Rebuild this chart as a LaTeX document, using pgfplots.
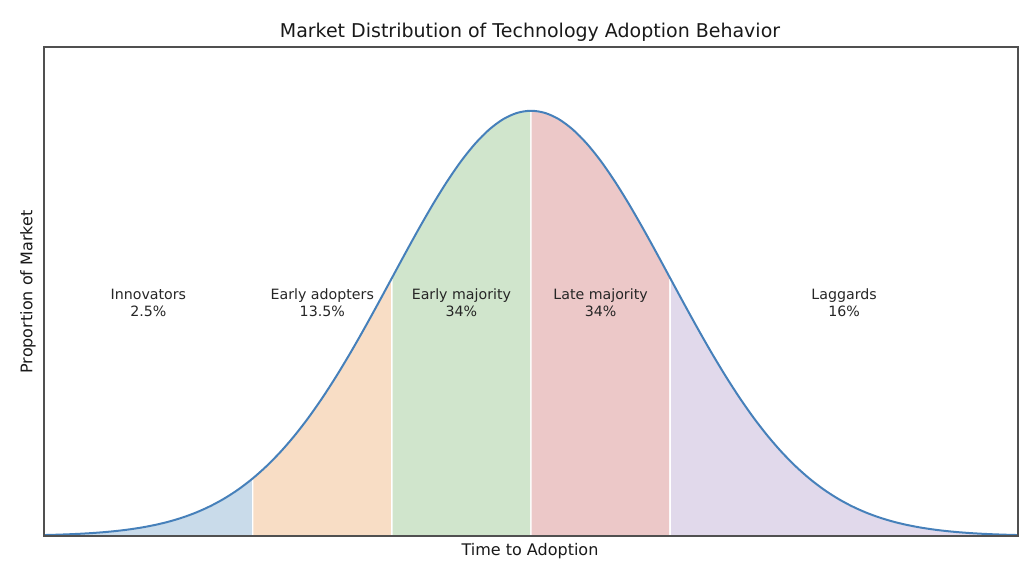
\documentclass[border=0pt]{standalone}
\usepackage{pgfplots}
\pgfplotsset{compat=1.18}
\usepackage{pgfplotstable}
\usepackage{fontspec}
\setmainfont{DejaVu Sans}
\definecolor{fillblue}{HTML}{C9DBEA}
\definecolor{fillorange}{HTML}{F8DDC5}
\definecolor{fillgreen}{HTML}{D0E5CC}
\definecolor{fillred}{HTML}{ECC8C8}
\definecolor{fillpurple}{HTML}{E1D9EB}
\definecolor{lineblue}{RGB}{70,128,186}
\definecolor{framegray}{RGB}{80,80,80}

\pgfplotstableread{
x y
-3.5 0.00087
-3.4 0.00123
-3.3 0.00172
-3.2 0.00238
-3.1 0.00327
-3.0 0.00443
-2.9 0.00595
-2.8 0.00792
-2.7 0.01042
-2.6 0.01358
-2.5 0.01753
-2.4 0.02239
-2.3 0.02833
-2.2 0.03547
-2.1 0.04398
-2.0 0.05399
-1.9 0.06562
-1.8 0.07895
-1.7 0.09405
-1.6 0.11092
-1.5 0.12952
-1.4 0.14973
-1.3 0.17137
-1.2 0.19419
-1.1 0.21785
-1.0 0.24197
-0.9 0.26609
-0.8 0.28969
-0.7 0.31225
-0.6 0.33322
-0.5 0.35207
-0.4 0.36827
-0.3 0.38139
-0.2 0.39104
-0.1 0.39695
0.0 0.39894
0.1 0.39695
0.2 0.39104
0.3 0.38139
0.4 0.36827
0.5 0.35207
0.6 0.33322
0.7 0.31225
0.8 0.28969
0.9 0.26609
1.0 0.24197
1.1 0.21785
1.2 0.19419
1.3 0.17137
1.4 0.14973
1.5 0.12952
1.6 0.11092
1.7 0.09405
1.8 0.07895
1.9 0.06562
2.0 0.05399
2.1 0.04398
2.2 0.03547
2.3 0.02833
2.4 0.02239
2.5 0.01753
2.6 0.01358
2.7 0.01042
2.8 0.00792
2.9 0.00595
3.0 0.00443
3.1 0.00327
3.2 0.00238
3.3 0.00172
3.4 0.00123
3.5 0.00087
}\curve

\begin{document}
\begin{tikzpicture}
\useasboundingbox (0,0) rectangle (512pt,288.5pt);
\begin{axis}[
  at={(22pt,20.5pt)}, anchor=south west,
  scale only axis, width=487pt, height=244.5pt,
  xmin=-3.5, xmax=3.5, ymin=0, ymax=0.45878,
  xtick=\empty, ytick=\empty,
  axis on top,
  axis line style={framegray, line width=0.6pt},
  clip=true,
]
\addplot[draw=white, line width=0.7pt, fill=fillblue, smooth, restrict x to domain=-3.6:-1.99] table {\curve} \closedcycle;
\addplot[draw=white, line width=0.7pt, fill=fillorange, smooth, restrict x to domain=-2.01:-0.99] table {\curve} \closedcycle;
\addplot[draw=white, line width=0.7pt, fill=fillgreen, smooth, restrict x to domain=-1.01:0.01] table {\curve} \closedcycle;
\addplot[draw=white, line width=0.7pt, fill=fillred, smooth, restrict x to domain=-0.01:1.01] table {\curve} \closedcycle;
\addplot[draw=white, line width=0.7pt, fill=fillpurple, smooth, restrict x to domain=0.99:3.6] table {\curve} \closedcycle;
\addplot[lineblue, line width=1pt, smooth] table {\curve};

\node[font=\fontsize{7.1}{8.5}\selectfont, align=center, text=black!85] at (axis cs:-2.75,0.219) {Innovators\\2.5\%};
\node[font=\fontsize{7.1}{8.5}\selectfont, align=center, text=black!85] at (axis cs:-1.5,0.219) {Early adopters\\13.5\%};
\node[font=\fontsize{7.1}{8.5}\selectfont, align=center, text=black!85] at (axis cs:-0.5,0.219) {Early majority\\34\%};
\node[font=\fontsize{7.1}{8.5}\selectfont, align=center, text=black!85] at (axis cs:0.5,0.219) {Late majority\\34\%};
\node[font=\fontsize{7.1}{8.5}\selectfont, align=center, text=black!85] at (axis cs:2.25,0.219) {Laggards\\16\%};
\end{axis}
\node[font=\fontsize{9.5}{11}\selectfont, text=black!90] at (265pt,272.5pt) {Market Distribution of Technology Adoption Behavior};
\node[font=\fontsize{8}{9.5}\selectfont, text=black!90] at (265pt,13pt) {Time to Adoption};
\node[font=\fontsize{8}{9.5}\selectfont, text=black!90, rotate=90] at (14pt,142.5pt) {Proportion of Market};
\end{tikzpicture}
\end{document}
